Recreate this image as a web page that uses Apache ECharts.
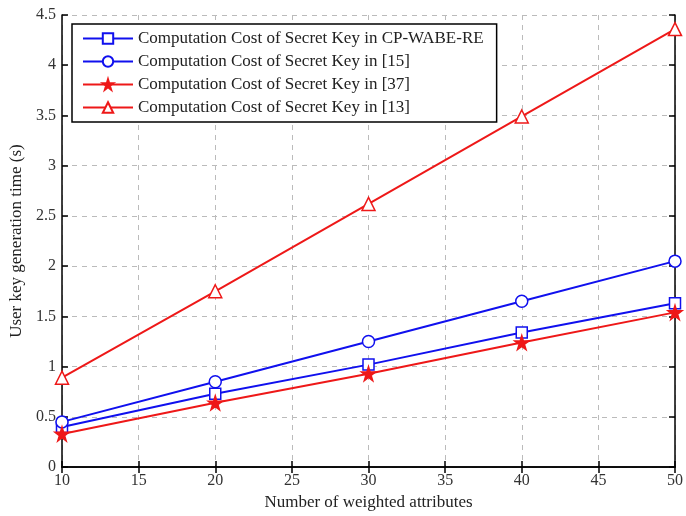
<!DOCTYPE html>
<html>
<head>
<meta charset="utf-8">
<script src="https://cdn.jsdelivr.net/npm/echarts@6/dist/echarts.min.js"></script>
<style>
html, body { margin: 0; padding: 0; background: #fff; }
#main { width: 686px; height: 516px; }
</style>
</head>
<body>
<div id="main"></div>
<script>
var attrs = [10, 20, 30, 40, 50];
var names = [
	'Computation Cost of Secret Key in CP-WABE-RE',
	'Computation Cost of Secret Key in [15]',
	'Computation Cost of Secret Key in [37]',
	'Computation Cost of Secret Key in [13]'
];
var cpwabe = [0.40, 0.73, 1.02, 1.34, 1.63];
var ref15 = [0.45, 0.85, 1.25, 1.65, 2.05];
var ref37 = [0.33, 0.64, 0.93, 1.24, 1.54];
var ref13 = [0.89, 1.75, 2.62, 3.49, 4.36];

var star = 'path://M50,0 L61,35 L98,35 L68,57 L79,91 L50,70 L21,91 L32,57 L2,35 L39,35 Z';

function pairs(vals) {
	return attrs.map(function(x, i) { return [x, vals[i]]; });
}

var serif = 'Liberation Serif';
var dom = document.getElementById('main');
var myChart = echarts.init(dom);

function mk(name, vals, color, symbol, size, filled) {
	return {
		name: name,
		type: 'line',
		data: pairs(vals),
		symbol: symbol,
		symbolSize: size,
		showAllSymbol: true,
		lineStyle: { color: color, width: 2 },
		itemStyle: { color: filled ? color : '#fff', borderColor: color, borderWidth: 1.5 },
		emphasis: { disabled: true },
		animation: false
	};
}

var boxAxis = {
	axisLine: { show: true, lineStyle: { color: '#000', width: 1.5 } },
	axisTick: { show: true, inside: true, length: 6, lineStyle: { color: '#000', width: 1.5 } },
	axisLabel: { show: false },
	splitLine: { show: false }
};

myChart.setOption({
	backgroundColor: '#fff',
	animation: false,
	grid: { left: 61, right: 9, top: 15, bottom: 47 },
	legend: {
		orient: 'vertical',
		left: 72,
		top: 24,
		itemWidth: 50,
		itemHeight: 13,
		itemGap: 6,
		padding: [6, 13, 6, 10],
		borderColor: '#000',
		borderWidth: 1.5,
		backgroundColor: '#fff',
		textStyle: { fontFamily: serif, fontSize: 17, lineHeight: 17, color: '#222' },
		data: names
	},
	xAxis: [{
		type: 'value',
		min: 10, max: 50, interval: 5,
		name: 'Number of weighted attributes',
		nameLocation: 'middle',
		nameGap: 26,
		nameTextStyle: { fontFamily: serif, fontSize: 17, color: '#222' },
		axisLine: { show: true, lineStyle: { color: '#000', width: 1.5 } },
		axisTick: { show: true, inside: true, length: 6, lineStyle: { color: '#000', width: 1.5 } },
		axisLabel: { fontFamily: serif, fontSize: 16, color: '#333', margin: 6 },
		splitLine: { show: true, lineStyle: { color: '#bbb', type: [5, 5], width: 1 } }
	}, Object.assign({ type: 'value', position: 'top', min: 10, max: 50, interval: 5 }, boxAxis)],
	yAxis: [{
		type: 'value',
		min: 0, max: 4.5, interval: 0.5,
		name: 'User key generation time (s)',
		nameLocation: 'middle',
		nameGap: 37,
		nameTextStyle: { fontFamily: serif, fontSize: 17, color: '#222' },
		axisLine: { show: true, lineStyle: { color: '#000', width: 1.5 } },
		axisTick: { show: true, inside: true, length: 6, lineStyle: { color: '#000', width: 1.5 } },
		axisLabel: { fontFamily: serif, fontSize: 16, color: '#333', margin: 6 },
		splitLine: { show: true, lineStyle: { color: '#bbb', type: [5, 5], width: 1 } }
	}, Object.assign({ type: 'value', position: 'right', min: 0, max: 4.5, interval: 0.5 }, boxAxis)],
	series: [
		mk(names[0], cpwabe, '#1010ee', 'rect', 11, false),
		mk(names[1], ref15, '#1010ee', 'circle', 12, false),
		mk(names[2], ref37, '#ee1818', star, 14, true),
		mk(names[3], ref13, '#ee1818', 'triangle', 13, false)
	]
});
</script>
</body>
</html>
